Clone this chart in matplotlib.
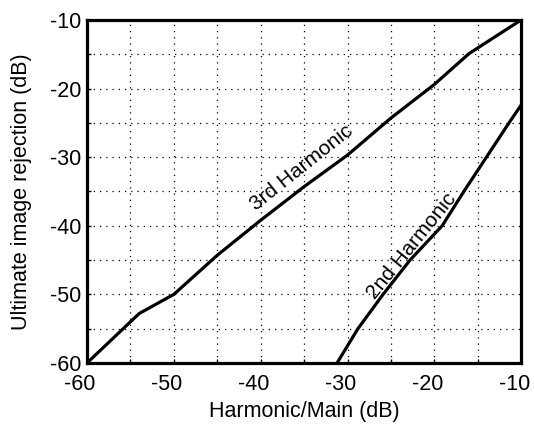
import matplotlib
matplotlib.use("Agg")
import matplotlib.pyplot as plt
import matplotlib.transforms as mtransforms
from matplotlib.ticker import MultipleLocator

plt.rcParams['font.family'] = ['Liberation Sans', 'DejaVu Sans']
plt.rcParams['axes.unicode_minus'] = False

# 3rd harmonic curve
h3_x = [-60, -54, -50, -45, -40, -35, -30, -25, -20, -16, -10]
h3_y = [-60, -52.8, -50.0, -44.3, -39.2, -34.3, -29.7, -24.3, -19.4, -14.9, -10]
# 2nd harmonic curve
h2_x = [-31.2, -28.8, -25.9, -22.8, -19.1, -16.6, -14.0, -11.4, -10]
h2_y = [-60, -55, -50, -45, -40, -35, -30, -25, -22.4]

x_ticks = [-60, -50, -40, -30, -20, -10]
y_ticks = [-60, -50, -40, -30, -20, -10]

fig = plt.figure(figsize=(5.34, 4.24), dpi=100)
ax = fig.add_axes([0.163, 0.144, 0.813, 0.809])

ax.plot(h3_x, h3_y, color='black', lw=2.3, solid_capstyle='butt')
ax.plot(h2_x, h2_y, color='black', lw=2.3, solid_capstyle='butt')

ax.set_xlim(-60, -10)
ax.set_ylim(-60, -10)
ax.set_xticks(x_ticks)
ax.set_yticks(y_ticks)
ax.xaxis.set_minor_locator(MultipleLocator(5))
ax.yaxis.set_minor_locator(MultipleLocator(5))
ax.grid(True, which='both', color='black', linestyle=(0, (1, 4)), linewidth=0.9)
ax.tick_params(which='both', direction='in', length=3, width=1, labelsize=15.5,
               top=False, right=False)
ax.tick_params(axis='x', pad=8)
ax.tick_params(axis='y', pad=4)
for s in ax.spines.values():
    s.set_linewidth(2.3)

# shift x tick labels slightly left, as in the reference
offset = mtransforms.ScaledTranslation(-5 / 72, 0, fig.dpi_scale_trans)
for lab in ax.get_xticklabels():
    lab.set_transform(lab.get_transform() + offset)

ax.set_xlabel('Harmonic/Main (dB)', fontsize=15.5)
ax.set_ylabel('Ultimate image rejection (dB)', fontsize=15.5)
ax.xaxis.set_label_coords(0.5, -0.143)
ax.yaxis.set_label_coords(-0.15, 0.5)
ax.xaxis.label.set_va('center')
ax.yaxis.label.set_va('center')

ax.text(-35.3, -31.6, '3rd Harmonic', rotation=38.5, fontsize=15,
        ha='center', va='center', rotation_mode='anchor')
ax.text(-22.6, -42.9, '2nd Harmonic', rotation=51, fontsize=15,
        ha='center', va='center', rotation_mode='anchor')

fig.savefig('out.png', dpi=100)
